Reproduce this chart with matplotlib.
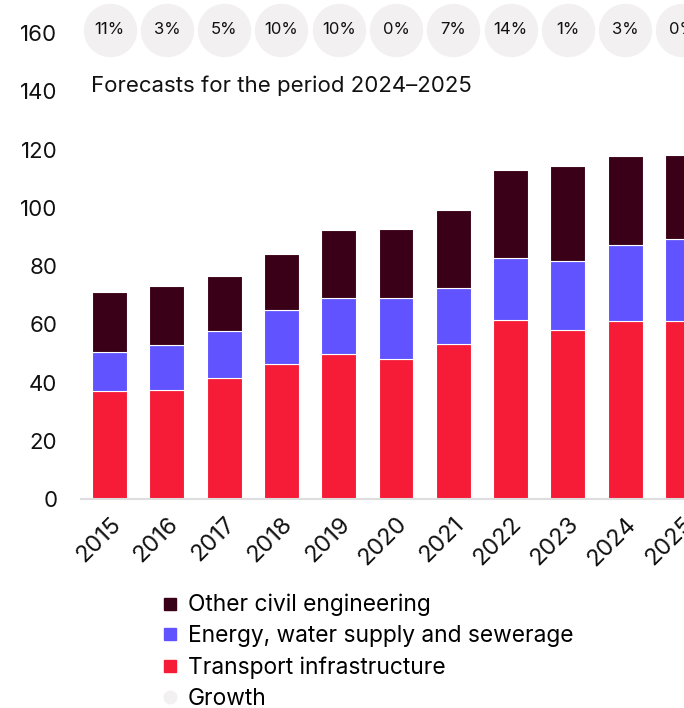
import matplotlib
matplotlib.use("Agg")
import matplotlib.pyplot as plt
from matplotlib.lines import Line2D
import numpy as np

plt.rcParams["font.family"] = ["Inter", "DejaVu Sans"]

years = ["2015", "2016", "2017", "2018", "2019", "2020",
         "2021", "2022", "2023", "2024", "2025"]
transport = [37.1, 37.5, 41.6, 46.2, 49.8, 48.0, 53.3, 61.4, 58.1, 61.3, 61.3]
energy = [13.4, 15.3, 16.0, 18.8, 19.4, 20.9, 19.1, 21.5, 23.5, 25.8, 28.1]
other = [20.5, 20.4, 18.9, 19.1, 23.2, 23.8, 26.7, 30.2, 32.7, 30.6, 28.8]
growth = ["11%", "3%", "5%", "10%", "10%", "0%", "7%", "14%", "1%", "3%", "0%"]

RED = "#f61b36"
BLUE = "#6153ff"
DARK = "#3a0017"
GREY = "#f2f0f0"
TEXT = "#111111"

fig = plt.figure(figsize=(6.84, 7.08), dpi=100)
ax = fig.add_axes([81 / 684, 209 / 708, 630 / 684, 495 / 708])

x = np.arange(len(years))
bottom2 = np.array(transport) + np.array(energy)
kw = dict(width=0.61, edgecolor="white", linewidth=0.8)
ax.bar(x, transport, color=RED, **kw)
ax.bar(x, energy, bottom=transport, color=BLUE, **kw)
ax.bar(x, other, bottom=bottom2, color=DARK, **kw)

# growth bubbles along the top
ax.scatter(x, [161.2] * len(x), s=1400, color=GREY, clip_on=False, zorder=3)
for xi, g in zip(x, growth):
    ax.text(xi, 161.2, g, ha="center", va="center", fontsize=12,
            color=TEXT, zorder=4)

ax.text(-0.32, 141.8, "Forecasts for the period 2024\u20132025", fontsize=16,
        color=TEXT, va="center", ha="left")

ax.set_xlim(-0.5, 10.5)
ax.set_ylim(0, 170)
ax.set_yticks(range(0, 161, 20))
ax.set_xticks(x)
ax.set_xticklabels(years, rotation=45, ha="right", rotation_mode="anchor")
ax.tick_params(axis="both", length=0, colors=TEXT)
ax.tick_params(axis="x", pad=10, labelsize=17)
ax.tick_params(axis="y", pad=17, labelsize=16)

for side in ["top", "right", "left"]:
    ax.spines[side].set_visible(False)
ax.spines["bottom"].set_color("#dddddd")
ax.spines["bottom"].set_linewidth(1.5)

handles = [
    Line2D([], [], marker="s", linestyle="", color=DARK, markersize=8),
    Line2D([], [], marker="s", linestyle="", color=BLUE, markersize=8),
    Line2D([], [], marker="s", linestyle="", color=RED, markersize=8),
    Line2D([], [], marker="o", linestyle="", color=GREY, markersize=9),
]
labels = ["Other civil engineering", "Energy, water supply and sewerage",
          "Transport infrastructure", "Growth"]
fig.legend(handles, labels, loc="upper left",
           bbox_to_anchor=(163 / 684, 1 - 594 / 708), frameon=False,
           fontsize=16.4, handlelength=0.6, handletextpad=0.5,
           labelspacing=0.39, borderaxespad=0, borderpad=0)

fig.savefig("out.png", dpi=100)
